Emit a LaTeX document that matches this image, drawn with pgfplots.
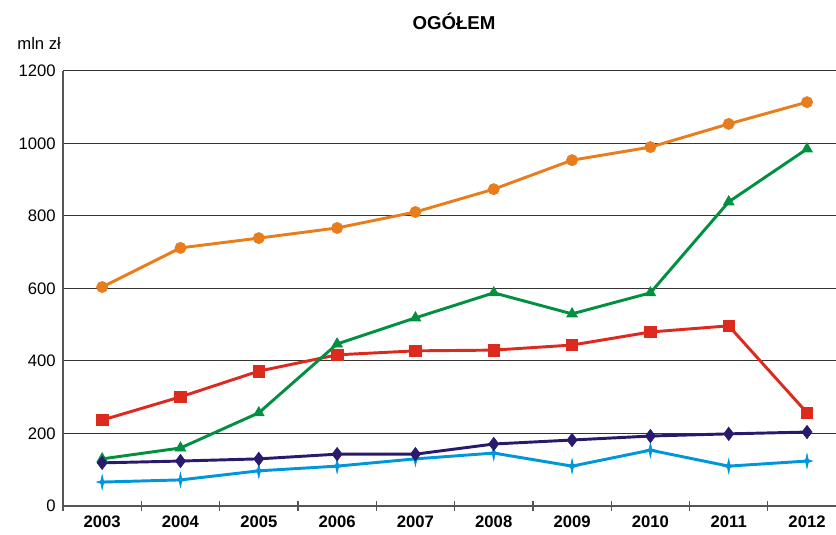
\documentclass[border=0pt]{standalone}
\usepackage{fontspec}
\setmainfont{Liberation Sans}
\usepackage{pgfplots}
\pgfplotsset{compat=1.18}
\definecolor{cOrange}{HTML}{E87D1E}
\definecolor{cGreen}{HTML}{009040}
\definecolor{cRed}{HTML}{DD2A1E}
\definecolor{cNavy}{HTML}{2A1A6E}
\definecolor{cBlue}{HTML}{0096DC}
\definecolor{cAxis}{HTML}{555555}
\pgfdeclareplotmark{sparkle}{%
  \pgfpathmoveto{\pgfpoint{0pt}{1.2\pgfplotmarksize}}%
  \pgfpathlineto{\pgfpoint{0.22\pgfplotmarksize}{0.22\pgfplotmarksize}}%
  \pgfpathlineto{\pgfpoint{0.9\pgfplotmarksize}{0pt}}%
  \pgfpathlineto{\pgfpoint{0.22\pgfplotmarksize}{-0.22\pgfplotmarksize}}%
  \pgfpathlineto{\pgfpoint{0pt}{-1.2\pgfplotmarksize}}%
  \pgfpathlineto{\pgfpoint{-0.22\pgfplotmarksize}{-0.22\pgfplotmarksize}}%
  \pgfpathlineto{\pgfpoint{-0.9\pgfplotmarksize}{0pt}}%
  \pgfpathlineto{\pgfpoint{-0.22\pgfplotmarksize}{0.22\pgfplotmarksize}}%
  \pgfpathclose
  \pgfusepathqfillstroke
}
\begin{document}
\begin{tikzpicture}
\useasboundingbox (0,0) rectangle (627pt,401.25pt);
\node[font=\fontsize{14}{16}\selectfont\bfseries] at (340.5pt,385pt) {OGÓŁEM};
\node[font=\fontsize{12.5}{14}\selectfont, anchor=west] at (9.5pt,369pt) {mln zł};
\begin{axis}[
  at={(47.25pt,21.75pt)}, anchor=south west,
  scale only axis, width=579.75pt, height=326.25pt,
  xmin=-0.5, xmax=9.37, ymin=0, ymax=1200,
  axis x line*=bottom, axis y line*=left,
  axis line style={-, draw=cAxis, line width=1.4pt},
  ytick={0,200,...,1200},
  xtick={0,...,9},
  xticklabels={\textbf{2003},\textbf{2004},\textbf{2005},\textbf{2006},\textbf{2007},\textbf{2008},\textbf{2009},\textbf{2010},\textbf{2011},\textbf{2012}},
  minor xtick={-0.5,0.5,...,8.5},
  major tick length=0pt, minor tick length=7.5pt,
  tick align=center,
  minor x tick style={draw=cAxis, line width=0.9pt},
  ymajorgrids, grid style={draw=black!80, line width=0.75pt},
  tick label style={font=\fontsize{12.5}{14}\selectfont},
  /pgf/number format/assume math mode=true,
  /pgf/number format/1000 sep={},
  xticklabel style={yshift=-4pt},
  yticklabel style={xshift=-2pt},
  every axis plot/.append style={line width=2.2pt},
  clip=false,
]
\addplot[color=cOrange, mark=*, mark size=4.2pt, mark options={solid, fill=cOrange, line width=0.5pt}] coordinates {
(0,604) (1,712) (2,739) (3,767) (4,811) (5,874) (6,954) (7,990) (8,1054) (9,1114)};
\addplot[color=cRed, mark=square*, mark size=4.3pt, mark options={solid, fill=cRed, line width=0.5pt}] coordinates {
(0,237) (1,301) (2,372) (3,417) (4,428) (5,430) (6,444) (7,480) (8,497) (9,257)};
\addplot[color=cGreen, mark=triangle*, mark size=4.6pt, mark options={solid, fill=cGreen, line width=0.5pt}] coordinates {
(0,130) (1,160) (2,257) (3,447) (4,519) (5,588) (6,530) (7,588) (8,839) (9,985)};
\addplot[color=cBlue, mark=sparkle, mark size=4.5pt, mark options={solid, fill=cBlue, line width=0.5pt}] coordinates {
(0,66) (1,72) (2,97) (3,110) (4,130) (5,146) (6,110) (7,154) (8,110) (9,124)};
\addplot[color=cNavy, mark=diamond*, mark size=5pt, mark options={solid, fill=cNavy, line width=0.5pt}] coordinates {
(0,119) (1,124) (2,130) (3,143) (4,143) (5,171) (6,182) (7,193) (8,199) (9,204)};
\end{axis}
\end{tikzpicture}
\end{document}
